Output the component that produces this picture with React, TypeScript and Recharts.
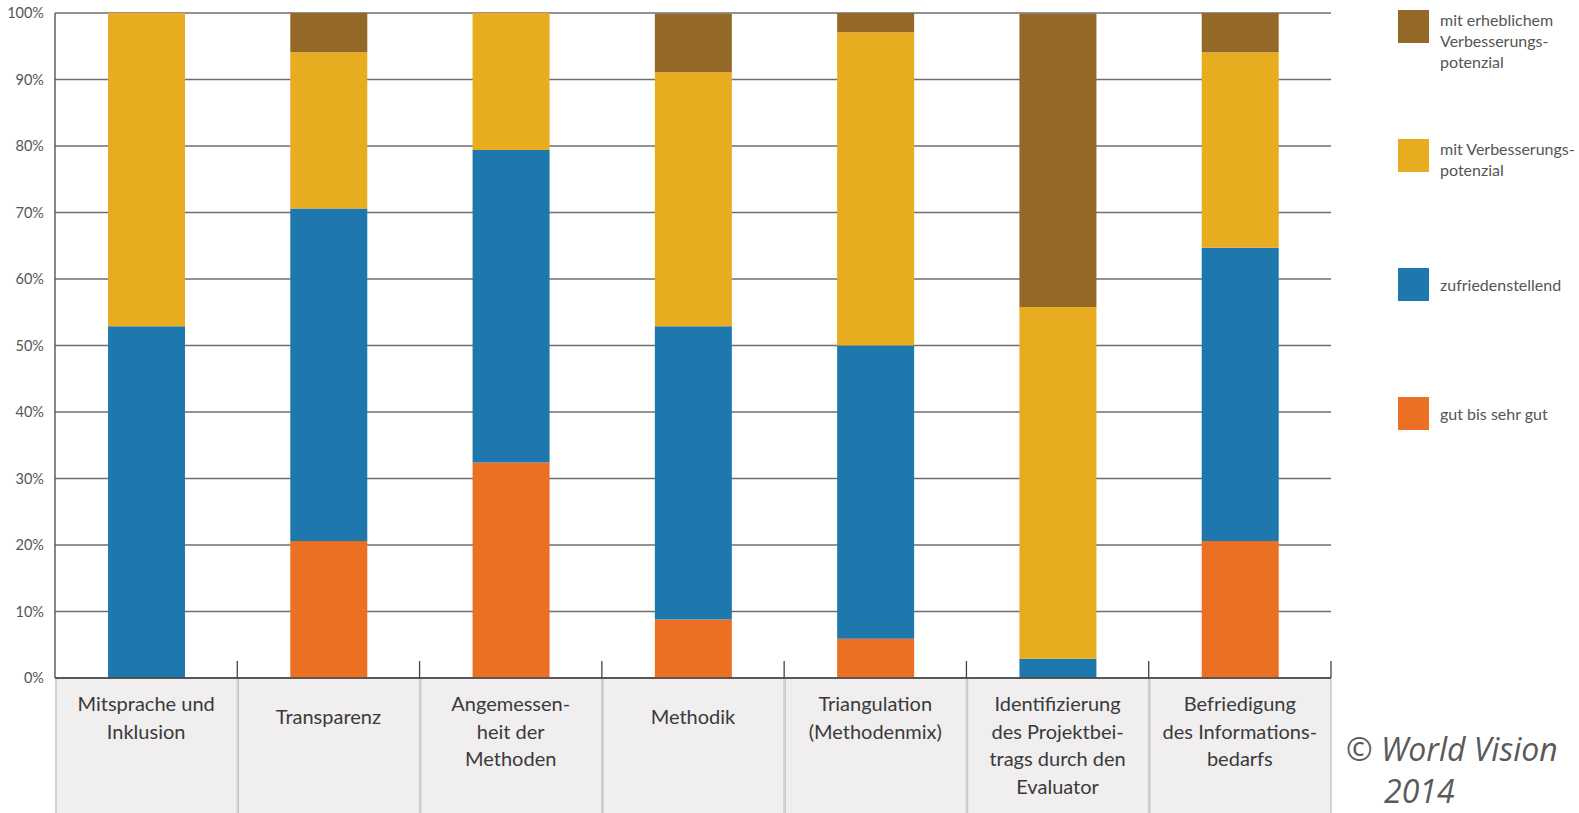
import React from 'react';
import {
  BarChart,
  Bar,
  XAxis,
  YAxis,
  CartesianGrid,
  Legend,
} from 'recharts';

// categories (label lines as printed under each bar)
const categories = [
  'Mitsprache und Inklusion',
  'Transparenz',
  'Angemessenheit der Methoden',
  'Methodik',
  'Triangulation (Methodenmix)',
  'Identifizierung des Projektbeitrags durch den Evaluator',
  'Befriedigung des Informationsbedarfs',
];
const categoryLines = [
  ['Mitsprache und', 'Inklusion'],
  ['Transparenz'],
  ['Angemessen-', 'heit der', 'Methoden'],
  ['Methodik'],
  ['Triangulation', '(Methodenmix)'],
  ['Identifizierung', 'des Projektbei-', 'trags durch den', 'Evaluator'],
  ['Befriedigung', 'des Informations-', 'bedarfs'],
];

// shares in percent
const gutBisSehrGut = [0, 20.6, 32.4, 8.8, 5.9, 0, 20.6];
const zufriedenstellend = [52.9, 50.0, 47.0, 44.1, 44.1, 2.9, 44.1];
const mitVerbesserungspotenzial = [47.1, 23.5, 20.6, 38.2, 47.1, 52.9, 29.4];
const mitErheblichemPotenzial = [0, 5.9, 0, 8.8, 2.9, 44.1, 5.9];

const yTicks = [0, 10, 20, 30, 40, 50, 60, 70, 80, 90, 100];

const series = [
  { key: 'gut', name: 'gut bis sehr gut', color: '#EC7024', lines: ['gut bis sehr gut'] },
  { key: 'zuf', name: 'zufriedenstellend', color: '#1F78AD', lines: ['zufriedenstellend'] },
  { key: 'mit', name: 'mit Verbesserungspotenzial', color: '#E8AC20', lines: ['mit Verbesserungs-', 'potenzial'] },
  { key: 'erh', name: 'mit erheblichem Verbesserungspotenzial', color: '#946827', lines: ['mit erheblichem', 'Verbesserungs-', 'potenzial'] },
];

const data = categories.map((c, i) => ({
  name: c,
  gut: gutBisSehrGut[i],
  zuf: zufriedenstellend[i],
  mit: mitVerbesserungspotenzial[i],
  erh: mitErheblichemPotenzial[i],
}));

const W = 1579;
const H = 813;
const MARGIN = { top: 13, right: 248, bottom: 0, left: 0 };
const Y_W = 55;
const X_H = 135;
const BAND = (W - MARGIN.left - MARGIN.right - Y_W) / categories.length;
const FONT = 'Lato, "Open Sans", sans-serif';

function CategoryTick(props: any) {
  const { x, y, payload, index } = props;
  const lines = categoryLines[index] ?? [String(payload.value)];
  const firstY = lines.length === 1 ? y + 46 : y + 33;
  return (
    <g>
      <rect x={x - BAND / 2} y={y + 1} width={BAND} height={X_H} fill="#f0eeef" />
      <line x1={x - BAND / 2 + 1} x2={x - BAND / 2 + 1} y1={y + 1} y2={y + X_H} stroke="#c6c6c6" strokeWidth={1.5} />
      <line x1={x + BAND / 2} x2={x + BAND / 2} y1={y + 1} y2={y + X_H} stroke="#c6c6c6" strokeWidth={1.5} />
      <line x1={x + BAND / 2} x2={x + BAND / 2} y1={y - 17} y2={y} stroke="#444" strokeWidth={1.3} />
      <text textAnchor="middle" fill="#3a3a3a" fontSize={20} fontFamily={FONT}>
        {lines.map((l, i) => (
          <tspan key={i} x={x} y={firstY + i * 27.5}>
            {l}
          </tspan>
        ))}
      </text>
    </g>
  );
}

function LegendBox() {
  const items = [...series].reverse();
  return (
    <div style={{ fontFamily: FONT, fontSize: 16, color: '#555' }}>
      {items.map((s) => {
        const multi = s.lines.length > 1;
        return (
          <div key={s.key} style={{ height: 129 }}>
            <div style={{ display: 'flex', alignItems: multi ? 'flex-start' : 'center' }}>
              <div style={{ width: 31, height: 33, background: s.color, flexShrink: 0 }} />
              <div
                style={{
                  marginLeft: 11,
                  lineHeight: '21px',
                  marginTop: multi ? -1 : 0,
                  whiteSpace: 'nowrap',
                }}
              >
                {s.lines.map((l, i) => (
                  <div key={i}>{l}</div>
                ))}
              </div>
            </div>
          </div>
        );
      })}
    </div>
  );
}

export default function App() {
  return (
    <div
      style={{
        position: 'absolute',
        left: 0,
        top: 0,
        width: W,
        height: H,
        overflow: 'hidden',
        background: '#fff',
      }}
    >
      <BarChart width={W} height={H} data={data} margin={MARGIN} barSize={77}>
        <CartesianGrid vertical={false} stroke="#6e6e6e" strokeWidth={1.4} />
        <XAxis
          dataKey="name"
          height={X_H}
          tickLine={false}
          tickSize={0}
          tickMargin={0}
          axisLine={{ stroke: '#444', strokeWidth: 1.4 }}
          tick={<CategoryTick />}
          interval={0}
        />
        <YAxis
          width={Y_W}
          domain={[0, 100]}
          ticks={yTicks}
          tickFormatter={(v) => `${v}%`}
          tickLine={false}
          tickMargin={5}
          axisLine={{ stroke: '#555', strokeWidth: 1.4 }}
          tick={{ fill: '#555', fontSize: 14.5, fontFamily: FONT }}
          interval={0}
        />
        <Legend
          layout="vertical"
          align="center"
          verticalAlign="middle"
          wrapperStyle={{ left: 1398, top: 10, width: 181 }}
          content={() => <LegendBox />}
        />
        {series.map((s) => (
          <Bar key={s.key} dataKey={s.key} name={s.name} stackId="a" fill={s.color} isAnimationActive={false} />
        ))}
      </BarChart>
      <div
        style={{
          position: 'absolute',
          left: 1346,
          top: 728,
          fontFamily: '"Open Sans", sans-serif',
          fontStyle: 'italic',
          fontSize: 32,
          color: '#5a5a5a',
          lineHeight: '42px',
          whiteSpace: 'nowrap',
        }}
      >
        <div>© World Vision</div>
        <div style={{ paddingLeft: 38 }}>2014</div>
      </div>
    </div>
  );
}
